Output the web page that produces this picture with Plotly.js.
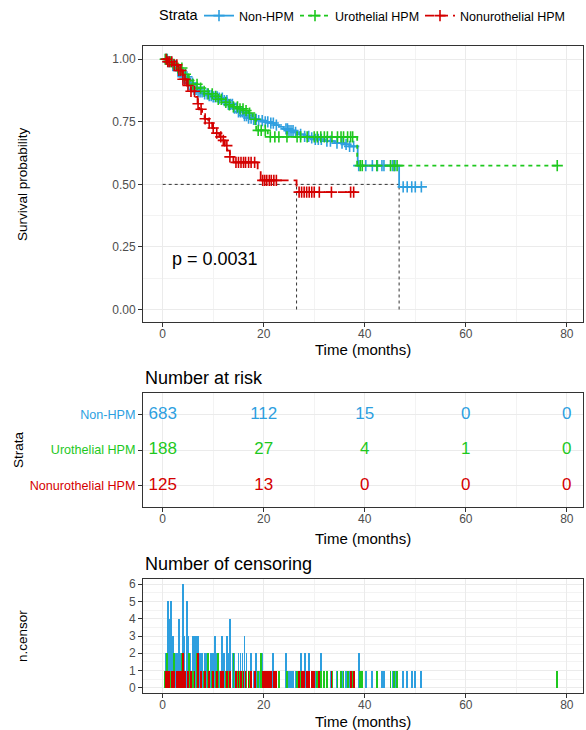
<!DOCTYPE html>
<html><head><meta charset="utf-8">
<script src="https://cdn.plot.ly/plotly-3.0.1.min.js"></script>
<style>html,body{margin:0;padding:0;background:#fff}#chart{width:586px;height:730px}</style>
</head><body><div id="chart"></div>
<script>
// ---------- data ----------
const groups = ['Non-HPM', 'Urothelial HPM', 'Nonurothelial HPM'];
const colors = ['#2E9FDF', '#1EC81E', '#D40000'];

// Kaplan-Meier step points (time in months, survival after the step)
const kmTimeNon = [0,1,2,3,4,5,6,7,8,9,10,11,12,13,14,15,16,17,18,19,20,21,22,23,24,25,26,27,28,29,30,32,34,36,37,38.6,46.8];
const kmSurvNon = [1,0.99,0.975,0.955,0.93,0.905,0.88,0.87,0.862,0.855,0.85,0.845,0.835,0.82,0.805,0.79,0.775,0.765,0.76,0.755,0.75,0.745,0.737,0.73,0.722,0.715,0.708,0.7,0.692,0.686,0.68,0.673,0.665,0.66,0.652,0.575,0.49];
const kmTimeUro = [0,1,2,3,4,5,6,7,8,9,10,11,12,13,14,15,16,17,17.8,18.5,20.8,38.5];
const kmSurvUro = [1,0.99,0.98,0.965,0.94,0.915,0.9,0.885,0.872,0.862,0.852,0.84,0.828,0.818,0.81,0.802,0.795,0.785,0.76,0.716,0.69,0.575];
const kmTimeNonuro = [0,1,2,3,4,4.8,5.6,6.5,6.9,7.2,7.8,8.3,9,9.8,10.5,11.2,11.8,12.3,12.8,13.3,14,18.8,19.4,26.5];
const kmSurvNonuro = [1,0.99,0.978,0.955,0.92,0.895,0.872,0.85,0.822,0.8,0.78,0.762,0.745,0.725,0.705,0.69,0.676,0.655,0.635,0.61,0.588,0.555,0.516,0.469];

// censoring times and number censored at each time
const censTimeNon = [0.6,0.9,1.1,1.4,1.7,2.0,2.3,2.6,3.0,3.3,3.6,4.0,4.3,4.8,5.1,5.5,5.9,6.2,6.6,7.0,7.4,7.8,8.3,8.8,9.2,9.6,10.0,10.4,10.8,11.2,11.8,12.2,12.7,13.0,13.4,13.8,14.2,14.6,15.0,15.4,15.8,16.2,16.6,17.0,17.5,18.0,18.5,19.0,19.7,20.3,20.8,21.4,21.9,22.5,24.4,24.7,25.0,25.4,25.8,26.3,27.3,28.1,28.9,29.5,30.2,30.8,31.4,32.5,33.2,34.5,35.5,36.3,37.0,37.8,38.8,40.2,41.5,42.5,43.4,43.8,45.5,46.0,47.6,48.4,49.3,50.0,51.2];
const censCountNon = [2,2,5,4,5,3,2,2,2,4,2,6,3,5,3,2,3,3,3,3,2,2,2,2,1,2,2,3,2,1,3,2,3,2,4,2,2,1,2,2,2,3,2,1,2,1,2,1,2,1,1,1,2,1,2,1,1,1,1,1,2,2,2,1,1,1,2,1,1,1,1,1,1,1,2,1,1,1,1,1,1,1,1,1,1,1,1];
const censTimeUro = [0.5,0.8,1.5,2.2,3.0,3.8,4.5,5.2,6.0,6.8,7.5,8.2,9.0,9.8,10.5,11.0,11.6,12.5,13.2,14.0,14.8,15.3,15.9,16.5,17.2,18.3,18.9,19.5,20.3,21.3,22.2,23.0,24.6,26.6,27.3,28.6,30.0,30.6,31.3,32.0,32.6,33.5,34.6,35.3,35.8,36.6,37.2,37.6,39.1,39.5,42.4,45.1,45.8,46.4,78.1];
const censCountUro = [1,2,1,2,1,2,1,2,1,2,1,1,2,1,1,2,1,1,1,2,1,1,1,1,1,1,1,2,1,1,1,1,1,1,1,1,1,1,1,1,1,1,1,1,1,1,1,1,1,1,1,1,1,1,1];
const censTimeNonuro = [0.7,1.0,1.3,1.8,2.3,2.8,3.2,3.6,4.0,4.4,5.0,5.6,6.3,7.0,7.6,8.4,9.2,10.0,10.7,11.5,12.0,12.7,13.3,14.5,15.0,15.5,16.0,16.4,17.0,17.5,18.2,19.8,20.2,20.6,21.1,21.5,22.0,22.5,27.0,27.5,28.0,28.5,29.0,29.5,30.0,31.0,33.4,37.2,37.8];
const censCountNonuro = [1,1,1,1,1,1,1,1,2,1,1,1,1,2,1,1,1,1,1,1,1,1,1,1,1,1,1,1,1,1,1,1,1,1,1,1,1,1,1,1,1,1,1,1,1,1,1,1,1];

// median survival
const medianNon = 46.8;
const medianNonuro = 26.5;
const pValueLabel = 'p = 0.0031';

// number at risk
const riskTimes = [0, 20, 40, 60, 80];
const riskNon = [683, 112, 15, 0, 0];
const riskUro = [188, 27, 4, 1, 0];
const riskNonuro = [125, 13, 0, 0, 0];

// ---------- build ----------
const km = [
  {t: kmTimeNon, s: kmSurvNon, ct: censTimeNon, cn: censCountNon, dash: 'solid'},
  {t: kmTimeUro, s: kmSurvUro, ct: censTimeUro, cn: censCountUro, dash: '4px,4px'},
  {t: kmTimeNonuro, s: kmSurvNonuro, ct: censTimeNonuro, cn: censCountNonuro, dash: '9px,5px'}
];
const risk = [riskNon, riskUro, riskNonuro];
const riskRow = [3, 2, 1];
function stepAt(times, surv, t) {
  let v = surv[0];
  for (let i = 0; i < times.length; i++) { if (times[i] <= t) v = surv[i]; }
  return v;
}
const font = 'Liberation Sans, Arial, sans-serif';
const traces = [];
const medLine = {color: '#333', width: 1, dash: '3px,3px'};
traces.push({x: [0, medianNon], y: [0.5, 0.5], mode: 'lines', line: medLine, showlegend: false, hoverinfo: 'skip'});
traces.push({x: [medianNonuro, medianNonuro], y: [0, 0.5], mode: 'lines', line: medLine, showlegend: false, hoverinfo: 'skip'});
traces.push({x: [medianNon, medianNon], y: [0, 0.5], mode: 'lines', line: medLine, showlegend: false, hoverinfo: 'skip'});

km.forEach((g, i) => {
  const lastT = Math.max(g.t[g.t.length - 1], g.ct[g.ct.length - 1]);
  const xs = g.t.concat([lastT]);
  const ys = g.s.concat([stepAt(g.t, g.s, lastT)]);
  traces.push({x: xs, y: ys, mode: 'lines', line: {color: colors[i], width: 1.8, shape: 'hv', dash: g.dash}, showlegend: false, hoverinfo: 'skip'});
  traces.push({x: g.ct, y: g.ct.map(t => stepAt(g.t, g.s, t)), mode: 'markers',
    marker: {symbol: 'cross-thin', size: 8, color: colors[i], line: {width: 1.6, color: colors[i]}}, showlegend: false, hoverinfo: 'skip'});
});
// legend entries (one legend box per stratum, so spacing can follow the reference)
const legendIds = ['legend', 'legend2', 'legend3'];
km.forEach((g, i) => {
  traces.push({x: [null], y: [null], name: groups[i], legend: legendIds[i], mode: 'lines+markers',
    line: {color: colors[i], width: 1.8, dash: g.dash},
    marker: {symbol: 'cross-thin', size: 8, color: colors[i], line: {width: 1.6, color: colors[i]}}, hoverinfo: 'skip'});
});
// risk table
risk.forEach((r, i) => {
  traces.push({x: riskTimes, y: riskTimes.map(() => riskRow[i]), text: r.map(String), mode: 'text', textposition: 'middle center',
    textfont: {family: font, size: 17, color: colors[i]}, xaxis: 'x2', yaxis: 'y2', showlegend: false, hoverinfo: 'skip'});
});
// censoring counts
km.forEach((g, i) => {
  traces.push({type: 'bar', x: g.ct, y: g.cn, width: 0.36, marker: {color: colors[i], line: {width: 0}},
    xaxis: 'x3', yaxis: 'y3', showlegend: false, hoverinfo: 'skip'});
});

const X0 = 143/586, X1 = 583/586;
const py = p => 1 - p/730;
const px = p => p/586;
const baseX = {
  domain: [X0, X1], range: [-3.9, 83.2], tickmode: 'linear', tick0: 0, dtick: 20,
  ticks: 'outside', ticklen: 4, tickcolor: '#333', tickwidth: 1, ticklabelstandoff: -3,
  showline: true, mirror: true, linecolor: '#333', linewidth: 1,
  showgrid: true, gridcolor: '#EBEBEB', gridwidth: 1, zeroline: false,
  minor: {tick0: 0, dtick: 10, showgrid: true, gridcolor: '#F3F3F3', gridwidth: 1},
  tickfont: {family: font, size: 12, color: '#4D4D4D'}, fixedrange: true
};
const baseY = {
  ticks: 'outside', ticklen: 4, tickcolor: '#333', tickwidth: 1,
  showline: true, mirror: true, linecolor: '#333', linewidth: 1,
  showgrid: true, gridcolor: '#EBEBEB', gridwidth: 1, zeroline: false,
  tickfont: {family: font, size: 12, color: '#4D4D4D'}, fixedrange: true
};
const rowText = groups.map((g, i) => '<span style="color:' + colors[i] + '">' + g + '</span>');
const legBase = {orientation: 'h', xanchor: 'left', y: py(1), yanchor: 'top',
  font: {family: font, size: 12.5, color: '#000'}, bgcolor: 'rgba(0,0,0,0)', itemwidth: 30};
function ann(text, x, y, size, extra) {
  return Object.assign({text: text, x: x, y: y, xref: 'paper', yref: 'paper', xanchor: 'center', yanchor: 'middle',
    showarrow: false, font: {family: font, size: size, color: '#000'}}, extra || {});
}

const layout = {
  width: 586, height: 730, margin: {l: 0, r: 0, t: 0, b: 0},
  paper_bgcolor: '#fff', plot_bgcolor: '#fff', barmode: 'overlay', bargap: 0,
  font: {family: font, color: '#000'},
  showlegend: true,
  legend: Object.assign({}, legBase, {x: px(199)}),
  legend2: Object.assign({}, legBase, {x: px(295)}),
  legend3: Object.assign({}, legBase, {x: px(420)}),
  xaxis: Object.assign({}, baseX, {anchor: 'y'}),
  yaxis: Object.assign({}, baseY, {domain: [py(322), py(46)], range: [-0.05, 1.053], tickmode: 'linear', tick0: 0, dtick: 0.25, tickformat: '.2f',
    minor: {tick0: 0, dtick: 0.125, showgrid: true, gridcolor: '#F3F3F3', gridwidth: 1}, anchor: 'x'}),
  xaxis2: Object.assign({}, baseX, {anchor: 'y2'}),
  yaxis2: Object.assign({}, baseY, {domain: [py(507), py(393)], range: [0.4, 3.6], tickmode: 'array', tickvals: riskRow, ticktext: rowText,
    tickfont: {family: font, size: 12.6, color: '#4D4D4D'}, anchor: 'x2'}),
  xaxis3: Object.assign({}, baseX, {anchor: 'y3'}),
  yaxis3: Object.assign({}, baseY, {domain: [py(693), py(579)], range: [-0.3, 6.3], tickmode: 'linear', tick0: 0, dtick: 1,
    minor: {tick0: 0, dtick: 0.5, showgrid: true, gridcolor: '#F3F3F3', gridwidth: 1}, anchor: 'x3'}),
  annotations: [
    ann('Strata', px(157), py(15), 14.5, {xanchor: 'left'}),
    ann(pValueLabel, 1.5, 0.2, 18, {xref: 'x', yref: 'y', xanchor: 'left'}),
    ann('Survival probability', px(22), py(184), 13.5, {textangle: -90}),
    ann('Time (months)', px(363), py(349), 15),
    ann('Number at risk', X0, py(378), 18, {xanchor: 'left'}),
    ann('Strata', px(18), py(450), 13.5, {textangle: -90}),
    ann('Time (months)', px(363), py(538), 15),
    ann('Number of censoring', X0, py(564), 18, {xanchor: 'left'}),
    ann('n.censor', px(22), py(636), 13.5, {textangle: -90}),
    ann('Time (months)', px(363), py(721), 15)
  ]
};
Plotly.newPlot('chart', traces, layout, {staticPlot: true, displayModeBar: false});
</script>
</body></html>
